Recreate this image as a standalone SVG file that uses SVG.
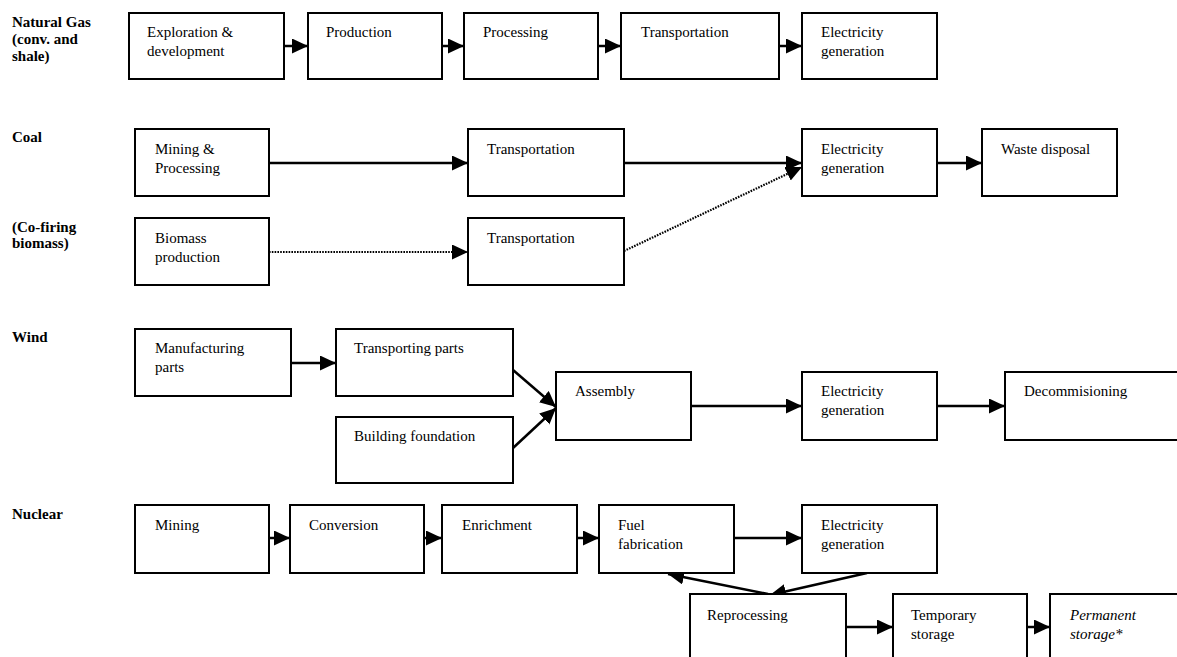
<svg xmlns="http://www.w3.org/2000/svg" width="1177" height="657" viewBox="0 0 1177 657">
<style>
.bg{fill:#fff}
.box{fill:#fff;stroke:#000;stroke-width:2}
.t{font-family:"Liberation Serif","Times New Roman",serif;font-size:15px;fill:#000}
.it{font-style:italic}
.lab{font-family:"Liberation Serif","Times New Roman",serif;font-size:15px;font-weight:bold;fill:#000}
.c{stroke:#000;stroke-width:2.5;fill:none;marker-end:url(#ah)}
.d{stroke:#000;stroke-width:2.2;fill:none;stroke-dasharray:1.6 1.2;marker-end:url(#ah)}
</style>
<defs>
<marker id="ah" markerUnits="userSpaceOnUse" markerWidth="17" markerHeight="16" refX="16" refY="7.5" orient="auto">
<path d="M0,0 L16,7.5 L0,15 z" fill="#000"/>
</marker>
</defs>
<rect class="bg" x="0" y="0" width="1177" height="657"/>

<g id="labels">
<text class="lab" x="12" y="27">Natural Gas</text>
<text class="lab" x="12" y="44">(conv. and</text>
<text class="lab" x="12" y="61">shale)</text>
<text class="lab" x="12" y="142">Coal</text>
<text class="lab" x="12" y="232">(Co-firing</text>
<text class="lab" x="12" y="248">biomass)</text>
<text class="lab" x="12" y="342">Wind</text>
<text class="lab" x="12" y="519">Nuclear</text>
</g>

<g id="connectors">
<line class="c" x1="284" y1="46" x2="308" y2="46"/>
<line class="c" x1="442" y1="46" x2="464" y2="46"/>
<line class="c" x1="598" y1="46" x2="621" y2="46"/>
<line class="c" x1="779" y1="46" x2="802" y2="46"/>
<line class="c" x1="269" y1="163" x2="468" y2="163"/>
<line class="c" x1="624" y1="163" x2="802" y2="163"/>
<line class="c" x1="937" y1="163" x2="982" y2="163"/>
<line class="d" x1="269" y1="252" x2="468" y2="252"/>
<line class="d" x1="624" y1="251" x2="802" y2="167"/>
<line class="c" x1="291" y1="363" x2="336" y2="363"/>
<line class="c" x1="513" y1="370" x2="556" y2="407"/>
<line class="c" x1="513" y1="448" x2="556" y2="408"/>
<line class="c" x1="691" y1="406" x2="802" y2="406"/>
<line class="c" x1="937" y1="406" x2="1005" y2="406"/>
<line class="c" x1="269" y1="538" x2="290" y2="538"/>
<line class="c" x1="424" y1="538" x2="442" y2="538"/>
<line class="c" x1="577" y1="538" x2="599" y2="538"/>
<line class="c" x1="734" y1="538" x2="802" y2="538"/>
<line class="c" x1="768" y1="594" x2="668" y2="574"/>
<line class="c" x1="867" y1="573" x2="770" y2="595"/>
<line class="c" x1="846" y1="627" x2="893" y2="627"/>
<line class="c" x1="1027" y1="627" x2="1050" y2="627"/>
</g>

<g id="ng1"><rect class="box" x="129" y="13" width="155" height="66"/><text class="t" x="147" y="37">Exploration &amp;</text><text class="t" x="147" y="56">development</text></g>
<g id="ng2"><rect class="box" x="308" y="13" width="134" height="66"/><text class="t" x="326" y="37">Production</text></g>
<g id="ng3"><rect class="box" x="464" y="13" width="134" height="66"/><text class="t" x="483" y="37">Processing</text></g>
<g id="ng4"><rect class="box" x="621" y="13" width="158" height="66"/><text class="t" x="641" y="37">Transportation</text></g>
<g id="ng5"><rect class="box" x="802" y="13" width="135" height="66"/><text class="t" x="821" y="37">Electricity</text><text class="t" x="821" y="56">generation</text></g>

<g id="coal1"><rect class="box" x="135" y="129" width="134" height="67"/><text class="t" x="155" y="154">Mining &amp;</text><text class="t" x="155" y="173">Processing</text></g>
<g id="coal2"><rect class="box" x="468" y="129" width="156" height="67"/><text class="t" x="487" y="154">Transportation</text></g>
<g id="coal3"><rect class="box" x="802" y="129" width="135" height="67"/><text class="t" x="821" y="154">Electricity</text><text class="t" x="821" y="173">generation</text></g>
<g id="coal4"><rect class="box" x="982" y="129" width="135" height="67"/><text class="t" x="1001" y="154">Waste disposal</text></g>

<g id="bio1"><rect class="box" x="135" y="218" width="134" height="67"/><text class="t" x="155" y="243">Biomass</text><text class="t" x="155" y="262">production</text></g>
<g id="bio2"><rect class="box" x="468" y="218" width="156" height="67"/><text class="t" x="487" y="243">Transportation</text></g>

<g id="wind1"><rect class="box" x="135" y="329" width="156" height="67"/><text class="t" x="155" y="353">Manufacturing</text><text class="t" x="155" y="372">parts</text></g>
<g id="wind2"><rect class="box" x="336" y="329" width="177" height="67"/><text class="t" x="354" y="353">Transporting parts</text></g>
<g id="wind3"><rect class="box" x="336" y="417" width="177" height="66"/><text class="t" x="354" y="441">Building foundation</text></g>
<g id="wind4"><rect class="box" x="556" y="372" width="135" height="68"/><text class="t" x="575" y="396">Assembly</text></g>
<g id="wind5"><rect class="box" x="802" y="372" width="135" height="68"/><text class="t" x="821" y="396">Electricity</text><text class="t" x="821" y="415">generation</text></g>
<g id="wind6"><rect class="box" x="1005" y="372" width="180" height="68"/><text class="t" x="1024" y="396">Decommisioning</text></g>

<g id="nuc1"><rect class="box" x="135" y="505" width="134" height="68"/><text class="t" x="155" y="530">Mining</text></g>
<g id="nuc2"><rect class="box" x="290" y="505" width="134" height="68"/><text class="t" x="309" y="530">Conversion</text></g>
<g id="nuc3"><rect class="box" x="442" y="505" width="135" height="68"/><text class="t" x="462" y="530">Enrichment</text></g>
<g id="nuc4"><rect class="box" x="599" y="505" width="135" height="68"/><text class="t" x="618" y="530">Fuel</text><text class="t" x="618" y="549">fabrication</text></g>
<g id="nuc5"><rect class="box" x="802" y="505" width="135" height="68"/><text class="t" x="821" y="530">Electricity</text><text class="t" x="821" y="549">generation</text></g>
<g id="nuc6"><rect class="box" x="690" y="594" width="156" height="80"/><text class="t" x="707" y="620">Reprocessing</text></g>
<g id="nuc7"><rect class="box" x="893" y="594" width="134" height="80"/><text class="t" x="911" y="620">Temporary</text><text class="t" x="911" y="639">storage</text></g>
<g id="nuc8"><rect class="box" x="1050" y="594" width="140" height="80"/><text class="t it" x="1070" y="620">Permanent</text><text class="t it" x="1070" y="639">storage*</text></g>
</svg>
